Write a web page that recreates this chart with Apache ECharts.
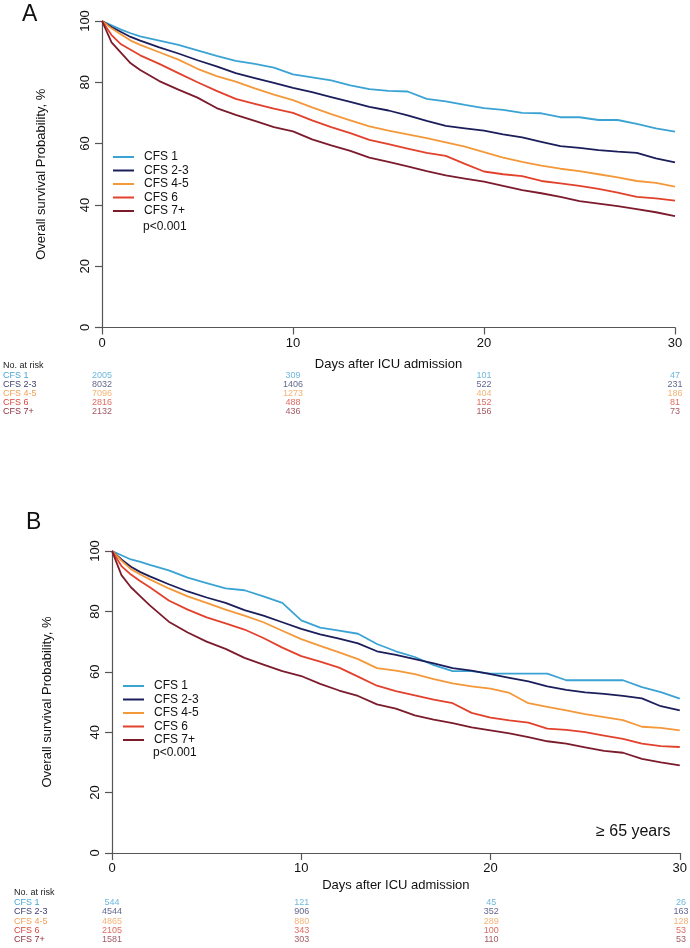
<!DOCTYPE html>
<html>
<head>
<meta charset="utf-8">
<script src="https://cdn.jsdelivr.net/npm/echarts@6/dist/echarts.min.js"></script>
<style>
  html, body { margin: 0; padding: 0; background: #fff; }
  #main { width: 690px; height: 948px; }
</style>
</head>
<body>
<div id="main"></div>
<script>
// time points (days after ICU admission)
var days = [0, 0.5, 1, 1.5, 2, 3, 4, 5, 6, 7, 8, 9, 10, 11, 12, 13, 14, 15, 16, 17, 18, 19, 20, 21, 22, 23, 24, 25, 26, 27, 28, 29, 30]
var groups = ['CFS 1', 'CFS 2-3', 'CFS 4-5', 'CFS 6', 'CFS 7+']
var xTicks = [0, 10, 20, 30]

// panel A, overall survival %
var aCfs1 = [100, 98.6, 97.2, 96, 95, 93.6, 92.2, 90.4, 88.6, 87, 86, 84.8, 82.6, 81.6, 80.6, 79, 77.8, 77.2, 77, 74.6, 73.8, 72.6, 71.6, 71, 70, 69.9, 68.6, 68.6, 67.7, 67.7, 66.4, 65, 63.9]
var aCfs23 = [100, 98, 96.4, 94.8, 93.6, 91.4, 89.4, 87.2, 85.2, 83, 81.4, 79.8, 78.2, 76.8, 75.2, 73.6, 72, 70.8, 69.2, 67.4, 65.8, 65, 64.2, 63, 62, 60.6, 59.2, 58.6, 57.9, 57.4, 57, 55.2, 53.9]
var aCfs45 = [100, 97.6, 95.6, 93.6, 92.2, 89.8, 87.4, 84.4, 82, 80.2, 78, 76, 74.2, 71.8, 69.6, 67.6, 65.6, 64.2, 63, 61.8, 60.4, 59, 57.2, 55.4, 54, 52.8, 51.8, 51, 50, 49, 47.8, 47.2, 46]
var aCfs6 = [100, 95.4, 92.4, 90.6, 88.8, 86, 83, 80, 77.2, 74.6, 73, 71.4, 70, 67.6, 65.4, 63.4, 61.2, 59.8, 58.4, 57, 56, 53.4, 50.9, 50, 49.4, 47.8, 47, 46.2, 45.2, 44, 42.6, 42.1, 41.4]
var aCfs7 = [100, 93, 89.6, 86.2, 84, 80.4, 77.6, 75, 71.6, 69.4, 67.4, 65.4, 64, 61.4, 59.4, 57.6, 55.4, 54, 52.6, 51, 49.6, 48.6, 47.6, 46.2, 44.8, 43.8, 42.6, 41.2, 40.4, 39.6, 38.6, 37.6, 36.3]

// panel B (>= 65 years)
var bCfs1 = [100, 98.6, 97.2, 96.4, 95.4, 93.6, 91.2, 89.4, 87.6, 87, 85, 82.8, 77, 74.6, 73.6, 72.6, 69.2, 66.8, 64.9, 62.2, 60.2, 60.2, 59.4, 59.4, 59.4, 59.4, 57.2, 57.2, 57.2, 57.2, 54.9, 53.3, 51.1]
var bCfs23 = [100, 97.2, 94.8, 93, 91.6, 89, 86.6, 84.6, 82.8, 80.4, 78.6, 76.4, 74.2, 72.4, 71, 69.4, 66.8, 65.6, 64.2, 62.8, 61.2, 60.4, 59.2, 58, 56.8, 55.2, 54, 53.2, 52.7, 52, 51.2, 48.6, 47.2]
var bCfs45 = [100, 96.8, 94, 92.2, 90.6, 87.6, 85, 82.8, 80.6, 78.6, 76.4, 73.6, 70.8, 68.6, 66.4, 64.2, 61.2, 60.4, 59.2, 57.6, 56.2, 55.2, 54.4, 53, 49.6, 48.4, 47.2, 46, 45, 44, 41.8, 41.4, 40.6]
var bCfs6 = [100, 95, 92.2, 90, 88, 83.6, 80.6, 78, 76, 74, 71.2, 68, 65.2, 63.4, 61.4, 58.4, 55.4, 53.6, 52.2, 50.8, 49.6, 46.4, 44.8, 43.9, 43.2, 41.2, 40.8, 40, 38.9, 37.8, 36.2, 35.4, 35.1]
var bCfs7 = [100, 92, 88, 85, 82, 76.6, 73, 70, 67.6, 64.6, 62.4, 60.2, 58.6, 56, 53.8, 52, 49.2, 47.8, 45.6, 44.2, 43, 41.6, 40.6, 39.6, 38.4, 37, 36.2, 35, 33.8, 33.2, 31.2, 30, 29]

// number at risk at days 0, 10, 20, 30
var aRisk1 = [2005, 309, 101, 47]
var aRisk23 = [8032, 1406, 522, 231]
var aRisk45 = [7096, 1273, 404, 186]
var aRisk6 = [2816, 488, 152, 81]
var aRisk7 = [2132, 436, 156, 73]
var bRisk1 = [544, 121, 45, 26]
var bRisk23 = [4544, 906, 352, 163]
var bRisk45 = [4865, 880, 289, 128]
var bRisk6 = [2105, 343, 100, 53]
var bRisk7 = [1581, 303, 110, 53]

var lineColors = ['#3ba3d3', '#1b1e5a', '#f4983a', '#e2412c', '#7b1b2c']
var tableColors = ['#4aa6d6', '#3a3d6e', '#f0a055', '#d9473a', '#8b2f3c']
var rows = ['No. at risk'].concat(groups)
var font = 'Liberation Sans'

function curves(list, gridIdx) {
  return list.map(function (vals, i) {
    return {
      name: groups[i],
      type: 'line',
      xAxisIndex: gridIdx,
      yAxisIndex: gridIdx,
      symbol: 'none',
      showSymbol: false,
      lineStyle: { color: lineColors[i], width: 1.8 },
      itemStyle: { color: lineColors[i] },
      data: days.map(function (d, k) { return [d, vals[k]] })
    }
  })
}

function riskTable(list, gridIdx) {
  return list.map(function (vals, i) {
    return {
      name: 'risk ' + groups[i],
      type: 'scatter',
      xAxisIndex: gridIdx,
      yAxisIndex: gridIdx,
      symbolSize: 0,
      itemStyle: { color: 'rgba(0,0,0,0)' },
      label: {
        show: true,
        position: 'inside',
        formatter: function (p) { return p.value[2] },
        color: tableColors[i],
        fontSize: 9,
        fontFamily: font
      },
      data: xTicks.map(function (d, k) { return [d, groups[i], vals[k]] })
    }
  })
}

function plotX(gridIdx, gap) {
  return {
    type: 'value', gridIndex: gridIdx, min: 0, max: 30, interval: 10,
    name: 'Days after ICU admission', nameLocation: 'middle', nameGap: gap,
    nameTextStyle: { fontSize: 13, color: '#111', fontFamily: font },
    axisLine: { lineStyle: { color: '#555', width: 1.2 } },
    axisTick: { length: 7, lineStyle: { color: '#555', width: 1.2 } },
    axisLabel: { fontSize: 13, color: '#111', margin: 9, fontFamily: font },
    splitLine: { show: false }
  }
}
function plotY(gridIdx, gap) {
  return {
    type: 'value', gridIndex: gridIdx, min: 0, max: 100, interval: 20,
    name: 'Overall survival Probability, %', nameLocation: 'middle', nameGap: gap,
    nameRotate: 90,
    nameTextStyle: { fontSize: 13, color: '#111', fontFamily: font },
    axisLine: { show: true, lineStyle: { color: '#555', width: 1.2 } },
    axisTick: { show: true, length: 7, lineStyle: { color: '#555', width: 1.2 } },
    axisLabel: { fontSize: 13, color: '#111', rotate: 90, margin: 10, fontFamily: font },
    splitLine: { show: false }
  }
}
function tableX(gridIdx) {
  return { type: 'value', gridIndex: gridIdx, min: 0, max: 30, show: false }
}
function tableY(gridIdx, margin) {
  return {
    type: 'category', gridIndex: gridIdx, data: rows, inverse: true,
    axisLine: { show: false }, axisTick: { show: false },
    axisLabel: {
      interval: 0, align: 'left', margin: margin, fontSize: 9, fontFamily: font,
      color: function (v, idx) { return idx === 0 ? '#222' : tableColors[idx - 1] }
    }
  }
}
function legendAt(left, top) {
  return {
    data: groups, orient: 'vertical', left: left, top: top, padding: 0,
    itemWidth: 21, itemHeight: 10, itemGap: 1.5,
    itemStyle: { opacity: 0 },
    textStyle: { fontSize: 12, color: '#111', fontFamily: font, padding: [0, 0, 0, 5] }
  }
}

var chart = echarts.init(document.getElementById('main'))
chart.setOption({
  animation: false,
  backgroundColor: '#fff',
  grid: [
    { left: 102, top: 21, width: 573, height: 306.5 },
    { left: 102, top: 361.4, width: 573, height: 55.2 },
    { left: 112, top: 551, width: 569, height: 302 },
    { left: 112, top: 888.3, width: 569, height: 56.4 }
  ],
  xAxis: [plotX(0, 30), tableX(1), plotX(2, 26), tableX(3)],
  yAxis: [plotY(0, 54), tableY(1, 99), plotY(2, 58), tableY(3, 98)],
  legend: [legendAt(112, 151), legendAt(122, 680)],
  graphic: [
    { type: 'text', left: 22, top: 3, style: { text: 'A', fontSize: 23, fill: '#111', fontFamily: font } },
    { type: 'text', left: 26, top: 511, style: { text: 'B', fontSize: 23, fill: '#111', fontFamily: font } },
    { type: 'text', left: 143, top: 221, style: { text: 'p<0.001', fontSize: 12, fill: '#111', fontFamily: font } },
    { type: 'text', left: 153, top: 747, style: { text: 'p<0.001', fontSize: 12, fill: '#111', fontFamily: font } },
    { type: 'text', left: 596, top: 824, style: { text: '\u2265 65 years', fontSize: 16, fill: '#111', fontFamily: font } }
  ],
  series: []
    .concat(curves([aCfs1, aCfs23, aCfs45, aCfs6, aCfs7], 0))
    .concat(curves([bCfs1, bCfs23, bCfs45, bCfs6, bCfs7], 2))
    .concat(riskTable([aRisk1, aRisk23, aRisk45, aRisk6, aRisk7], 1))
    .concat(riskTable([bRisk1, bRisk23, bRisk45, bRisk6, bRisk7], 3))
})
</script>
</body>
</html>
